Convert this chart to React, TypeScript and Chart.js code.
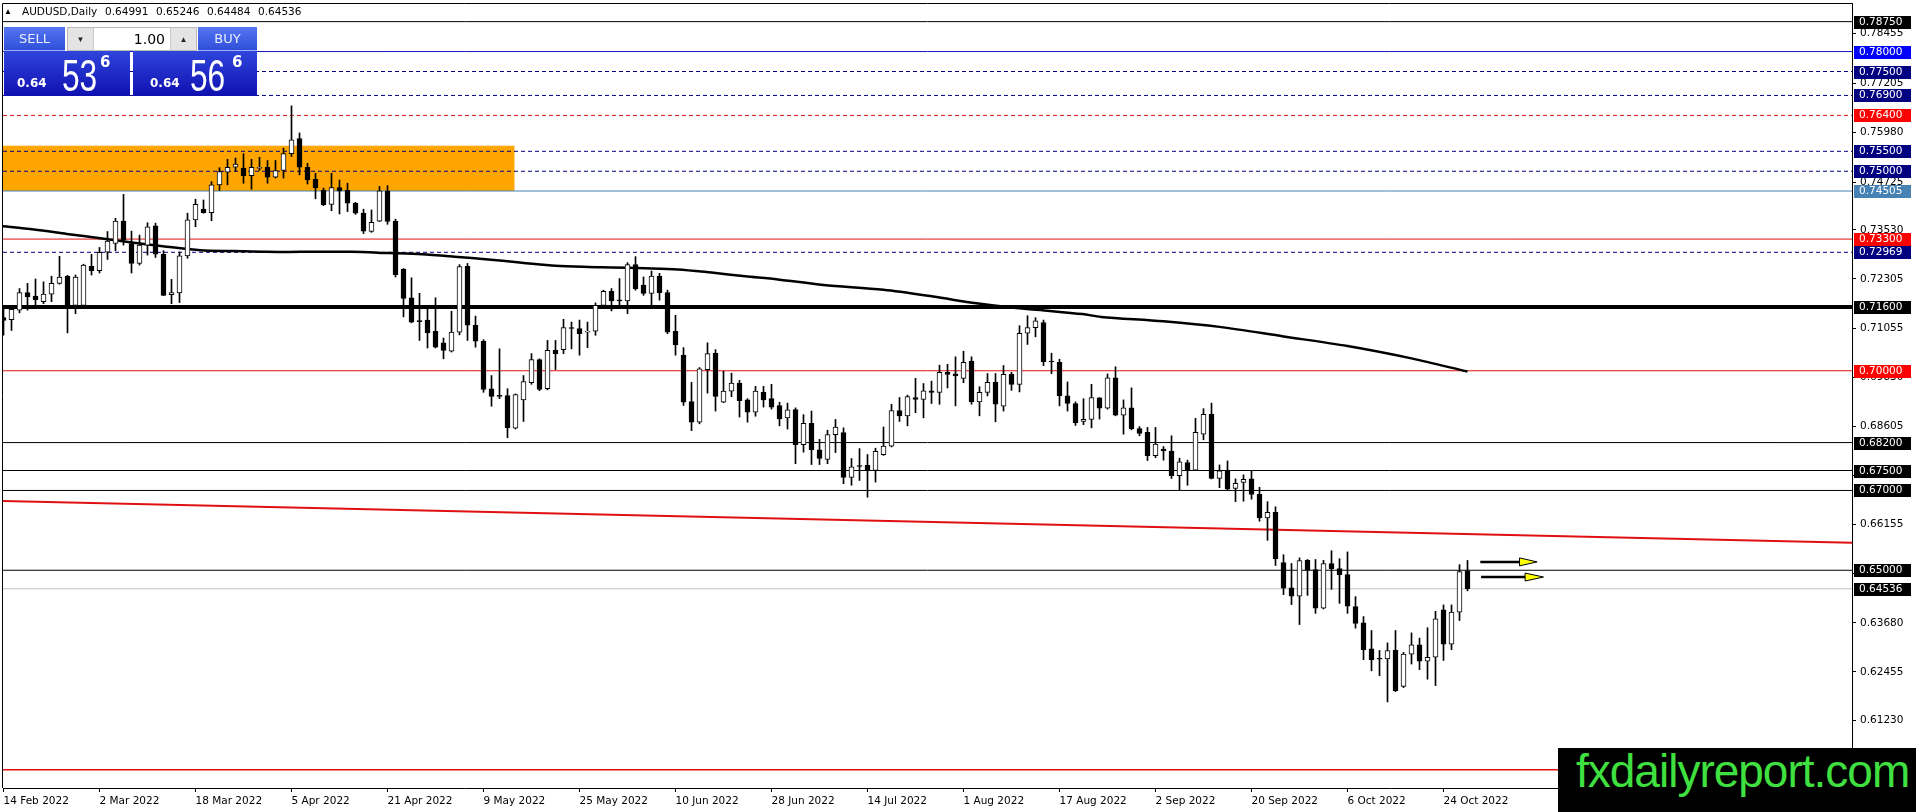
import { useEffect, useRef } from 'react';
import { Chart, registerables } from 'chart.js';

Chart.register(...registerables);

// one bar per trading day, bar 0 = 14 Feb 2022 ... bar 183 = 27 Oct 2022
const opens = [
  0.7133, 0.7128, 0.7152, 0.7196, 0.7187, 0.7173, 0.7192, 0.7219, 0.7237, 0.7164,
  0.7164, 0.7262, 0.7251, 0.7297, 0.7319, 0.7375, 0.7319, 0.7269, 0.7315, 0.7363,
  0.7292, 0.7191, 0.7195, 0.7288, 0.7378, 0.7405, 0.7396, 0.7466, 0.7498, 0.7510,
  0.7508, 0.7489, 0.7507, 0.7510, 0.7485, 0.7502, 0.7544, 0.7582, 0.7510, 0.7480,
  0.7452, 0.7417, 0.7459, 0.7452, 0.7420, 0.7395, 0.7349, 0.7375, 0.7451, 0.7375,
  0.7255, 0.7183, 0.7126, 0.7127, 0.7099, 0.7070, 0.7049, 0.7097, 0.7262, 0.7114,
  0.7074, 0.6955, 0.6937, 0.6938, 0.6856, 0.6927, 0.6970, 0.7028, 0.6955, 0.7051,
  0.7053, 0.7108, 0.7106, 0.7097, 0.7099, 0.7164, 0.7199, 0.7176, 0.7175, 0.7266,
  0.7215, 0.7194, 0.7237, 0.7196, 0.7099, 0.7039, 0.6923, 0.6871, 0.7003, 0.7044,
  0.6921, 0.6949, 0.6969, 0.6927, 0.6896, 0.6946, 0.6930, 0.6913, 0.6882, 0.6903,
  0.6815, 0.6868, 0.6802, 0.6778, 0.6840, 0.6845, 0.6733, 0.6761, 0.6763, 0.6750,
  0.6790, 0.6811, 0.6900, 0.6887, 0.6933, 0.6928, 0.6950, 0.6946, 0.6996, 0.6992,
  0.6981, 0.7024, 0.6922, 0.6946, 0.6971, 0.6911, 0.6991, 0.6966, 0.7094, 0.7108,
  0.7121, 0.7023, 0.7021, 0.6937, 0.6918, 0.6873, 0.6878, 0.6932, 0.6906, 0.6982,
  0.6889, 0.6907, 0.6855, 0.6846, 0.6787, 0.6804, 0.6799, 0.6737, 0.6770, 0.6751,
  0.6841, 0.6891, 0.6730, 0.6749, 0.6705, 0.6720, 0.6729, 0.6690, 0.6631, 0.6645,
  0.6519, 0.6456, 0.6435, 0.6525, 0.6502, 0.6405, 0.6517, 0.6504, 0.6489, 0.6409,
  0.6368, 0.6303, 0.6278, 0.6278, 0.6300, 0.6209, 0.6290, 0.6313, 0.6272, 0.6282,
  0.6401, 0.6315, 0.6395, 0.64991,
];
const highs = [
  0.7156, 0.7164, 0.7206, 0.7219, 0.7230, 0.7223, 0.7237, 0.7287, 0.7239, 0.7240,
  0.7267, 0.7292, 0.7309, 0.7349, 0.7382, 0.7442, 0.7350, 0.7340, 0.7371, 0.7370,
  0.7301, 0.7229, 0.7298, 0.7395, 0.7430, 0.7428, 0.7474, 0.7509, 0.7530, 0.7533,
  0.7544, 0.7530, 0.7535, 0.7527, 0.7527, 0.7558, 0.7664, 0.7596, 0.7520, 0.7495,
  0.7458, 0.7495, 0.7478, 0.7470, 0.7422, 0.7405, 0.7403, 0.7462, 0.7464, 0.7380,
  0.7256, 0.7233, 0.7194, 0.7156, 0.7183, 0.7082, 0.7149, 0.7266, 0.7269, 0.7137,
  0.7078, 0.6988, 0.7055, 0.6955, 0.6942, 0.6988, 0.7043, 0.7030, 0.7076, 0.7076,
  0.7129, 0.7122, 0.7127, 0.7122, 0.7170, 0.7202, 0.7206, 0.7231, 0.7271, 0.7286,
  0.7235, 0.7250, 0.7244, 0.7202, 0.7139, 0.7058, 0.6971, 0.7008, 0.7070, 0.7053,
  0.6999, 0.6994, 0.6976, 0.6930, 0.6961, 0.6961, 0.6966, 0.6921, 0.6919, 0.6907,
  0.6890, 0.6899, 0.6828, 0.6851, 0.6878, 0.6857, 0.6780, 0.6805, 0.6790, 0.6806,
  0.6859, 0.6916, 0.6933, 0.6939, 0.6981, 0.6968, 0.6974, 0.7014, 0.7016, 0.7035,
  0.7049, 0.7035, 0.6960, 0.6993, 0.6993, 0.7013, 0.6996, 0.7113, 0.7138, 0.7133,
  0.7127, 0.7044, 0.7029, 0.6972, 0.6922, 0.6930, 0.6966, 0.6933, 0.6992, 0.7010,
  0.6927, 0.6957, 0.6860, 0.6858, 0.6858, 0.6810, 0.6837, 0.6781, 0.6776, 0.6881,
  0.6905, 0.6919, 0.6764, 0.6774, 0.6729, 0.6739, 0.6749, 0.6708, 0.6672, 0.6659,
  0.6539, 0.6517, 0.6531, 0.6527, 0.6527, 0.6525, 0.6549, 0.6529, 0.6546, 0.6434,
  0.6384, 0.6349, 0.6299, 0.6318, 0.6349, 0.6294, 0.6343, 0.6330, 0.6356, 0.6397,
  0.6413, 0.6413, 0.6514, 0.65246,
];
const lows = [
  0.7089, 0.7101, 0.7145, 0.7152, 0.7164, 0.7168, 0.7173, 0.7217, 0.7095, 0.7143,
  0.7163, 0.7240, 0.7245, 0.7279, 0.7301, 0.7315, 0.7245, 0.7265, 0.7290, 0.7284,
  0.7188, 0.7168, 0.7171, 0.7282, 0.7361, 0.7395, 0.7376, 0.7452, 0.7466, 0.7499,
  0.7470, 0.7455, 0.7502, 0.7470, 0.7483, 0.7483, 0.7537, 0.7491, 0.7468, 0.7431,
  0.7414, 0.7401, 0.7393, 0.7399, 0.7392, 0.7344, 0.7347, 0.7374, 0.7367, 0.7235,
  0.7135, 0.7120, 0.7076, 0.7057, 0.7057, 0.7030, 0.7047, 0.7090, 0.7076, 0.7059,
  0.6946, 0.6911, 0.6930, 0.6832, 0.6854, 0.6873, 0.6966, 0.6950, 0.6952, 0.7003,
  0.7043, 0.7055, 0.7039, 0.7058, 0.7089, 0.7156, 0.7150, 0.7164, 0.7143, 0.7202,
  0.7189, 0.7164, 0.7177, 0.7093, 0.7039, 0.6913, 0.6850, 0.6867, 0.6944, 0.6899,
  0.6920, 0.6935, 0.6884, 0.6871, 0.6886, 0.6909, 0.6904, 0.6862, 0.6854, 0.6767,
  0.6796, 0.6765, 0.6765, 0.6767, 0.6795, 0.6717, 0.6713, 0.6725, 0.6683, 0.6721,
  0.6788, 0.6809, 0.6873, 0.6862, 0.6895, 0.6882, 0.6918, 0.6916, 0.6957, 0.6912,
  0.6970, 0.6916, 0.6887, 0.6937, 0.6872, 0.6899, 0.6951, 0.6947, 0.7066, 0.7085,
  0.7013, 0.6993, 0.6912, 0.6899, 0.6863, 0.6865, 0.6857, 0.6879, 0.6904, 0.6887,
  0.6841, 0.6852, 0.6837, 0.6775, 0.6782, 0.6776, 0.6730, 0.6701, 0.6713, 0.6750,
  0.6827, 0.6729, 0.6707, 0.6701, 0.6672, 0.6673, 0.6678, 0.6623, 0.6575, 0.6512,
  0.6439, 0.6414, 0.6364, 0.6437, 0.6392, 0.6403, 0.6452, 0.6417, 0.6392, 0.6355,
  0.6276, 0.6248, 0.6236, 0.6170, 0.6196, 0.6206, 0.6265, 0.6251, 0.6227, 0.6211,
  0.6274, 0.6301, 0.6374, 0.64484,
];
const closes = [
  0.7126, 0.7154, 0.7196, 0.7185, 0.7178, 0.7192, 0.7219, 0.7235, 0.7164, 0.7235,
  0.7265, 0.7251, 0.7297, 0.7325, 0.7375, 0.7328, 0.7269, 0.7315, 0.7361, 0.7292,
  0.7189, 0.7196, 0.7288, 0.7378, 0.7417, 0.7396, 0.7466, 0.7499, 0.7510, 0.7518,
  0.7489, 0.7510, 0.7510, 0.7485, 0.7502, 0.7544, 0.7579, 0.7510, 0.7478, 0.7459,
  0.7416, 0.7459, 0.7451, 0.7420, 0.7395, 0.7350, 0.7372, 0.7451, 0.7374, 0.7241,
  0.7181, 0.7122, 0.7123, 0.7095, 0.7059, 0.7051, 0.7097, 0.7261, 0.7114, 0.7074,
  0.6953, 0.6936, 0.6936, 0.6857, 0.6940, 0.6973, 0.7028, 0.6953, 0.7051, 0.7043,
  0.7108, 0.7106, 0.7093, 0.7099, 0.7164, 0.7199, 0.7175, 0.7175, 0.7266, 0.7206,
  0.7194, 0.7237, 0.7196, 0.7097, 0.7065, 0.6921, 0.6871, 0.7005, 0.7043, 0.6936,
  0.6949, 0.6969, 0.6925, 0.6896, 0.6949, 0.6927, 0.6909, 0.6879, 0.6902, 0.6815,
  0.6868, 0.6802, 0.6780, 0.6840, 0.6859, 0.6733, 0.6759, 0.6760, 0.6750, 0.6798,
  0.6811, 0.6900, 0.6887, 0.6935, 0.6928, 0.6950, 0.6946, 0.6996, 0.6991, 0.6987,
  0.7021, 0.6922, 0.6946, 0.6971, 0.6916, 0.6991, 0.6966, 0.7094, 0.7108, 0.7125,
  0.7023, 0.7022, 0.6937, 0.6918, 0.6870, 0.6878, 0.6933, 0.6906, 0.6982, 0.6889,
  0.6907, 0.6854, 0.6843, 0.6787, 0.6816, 0.6799, 0.6737, 0.6772, 0.6751, 0.6846,
  0.6891, 0.6730, 0.6749, 0.6703, 0.6718, 0.6728, 0.6690, 0.6631, 0.6645, 0.6529,
  0.6455, 0.6435, 0.6524, 0.6500, 0.6405, 0.6517, 0.6504, 0.6489, 0.6410, 0.6367,
  0.6301, 0.6275, 0.6277, 0.6299, 0.6198, 0.6290, 0.6313, 0.6272, 0.6282, 0.6378,
  0.6315, 0.6395, 0.6497, 0.64536,
];

const dateLabels = [
  '14 Feb 2022', '2 Mar 2022', '18 Mar 2022', '5 Apr 2022', '21 Apr 2022', '9 May 2022',
  '25 May 2022', '10 Jun 2022', '28 Jun 2022', '14 Jul 2022', '1 Aug 2022', '17 Aug 2022',
  '2 Sep 2022', '20 Sep 2022', '6 Oct 2022', '24 Oct 2022',
];
const dateBars = [0, 12, 24, 36, 48, 60, 72, 84, 96, 108, 120, 132, 144, 156, 168, 180];

const priceTicks = [
  0.78455, 0.77205, 0.7598, 0.74725, 0.7353, 0.72305, 0.71055, 0.6983,
  0.68605, 0.6738, 0.66155, 0.6493, 0.6368, 0.62455, 0.6123,
];

// moving average at these bar positions
const maBars = [
  -0.4, 3.8, 7.9, 12.1, 16.3, 20.4, 24.6, 28.8, 32.9, 37.1, 43.5, 48.1, 52.3,
  56.4, 60.6, 64.8, 69.0, 73.1, 76.0, 80.2, 84.3, 88.5, 92.7, 96.8, 102.5, 110.0,
  116.2, 121.6, 126.6, 130.8, 134.9, 137.2, 145, 152, 160, 168, 176, 183,
];
const maValues = [
  0.7363, 0.7354, 0.7343, 0.7332, 0.7321, 0.7311, 0.7302, 0.73, 0.7298, 0.7298,
  0.7298, 0.7295, 0.7292, 0.7286, 0.7279, 0.7271, 0.7263, 0.726, 0.7259, 0.7257,
  0.7254, 0.7246, 0.7237, 0.7229, 0.7215, 0.7203, 0.7186, 0.7169, 0.7157, 0.715,
  0.7142, 0.7135, 0.7124, 0.711, 0.7086, 0.7062, 0.7031, 0.6998,
];

const trendBars = [-0.4, 231.1];
const trendValues = [0.6674, 0.6569];

const zoneBars = [-1, 63.9];
const zoneTop = 0.7564;
const zoneBottom = 0.74505;

const levels = [
  0.7875, 0.78, 0.775, 0.769, 0.764, 0.755, 0.75, 0.74505, 0.733,
  0.72969, 0.716, 0.7, 0.682, 0.675, 0.67, 0.65, 0.64536, 0.6,
];

const arrowStart = [184.6, 184.7];
const arrowBase = [189.5, 190.2];
const arrowTip = [191.7, 192.5];
const arrowPrice = [0.6521, 0.6483];

const titleParts = ['AUDUSD,Daily', '0.64991', '0.65246', '0.64484', '0.64536'];

// styles for the horizontal levels, same order as levels
const NAVY = '#000080';
const RED = '#e01010';
const levelStyle = [
  { color: '#000000', width: 1, dash: [], tag: '#000000' },
  { color: '#1414c8', width: 1, dash: [], tag: '#0000ff' },
  { color: NAVY, width: 1, dash: [4, 3], tag: NAVY },
  { color: NAVY, width: 1, dash: [4, 3], tag: NAVY },
  { color: RED, width: 1, dash: [4, 3], tag: '#ff0000' },
  { color: NAVY, width: 1, dash: [4, 3], tag: NAVY },
  { color: NAVY, width: 1, dash: [4, 3], tag: NAVY },
  { color: '#4682b4', width: 1, dash: [], tag: '#4682b4' },
  { color: RED, width: 1, dash: [], tag: '#ff0000' },
  { color: NAVY, width: 1, dash: [4, 3], tag: NAVY },
  { color: '#000000', width: 4, dash: [], tag: '#000000' },
  { color: RED, width: 1, dash: [], tag: '#ff0000' },
  { color: '#000000', width: 1, dash: [], tag: '#000000' },
  { color: '#000000', width: 1, dash: [], tag: '#000000' },
  { color: '#000000', width: 1, dash: [], tag: '#000000' },
  { color: '#000000', width: 1, dash: [], tag: '#000000' },
  { color: '#c0c0c0', width: 1, dash: [], tag: '#000000' },
  { color: RED, width: 1.5, dash: [], tag: '#ff0000' },
];

const X_MIN = -0.0625;
const X_MAX = 231.0625;
const Y_MIN = 0.59543;
const Y_MAX = 0.79217;
const FONT = 'DejaVu Sans';

const frame = {
  id: 'frame',
  beforeDatasetsDraw(chart: any) {
    const { ctx, chartArea: a } = chart;
    ctx.save();
    ctx.strokeStyle = '#000';
    ctx.lineWidth = 1;
    ctx.beginPath();
    ctx.moveTo(a.left - 0.5, a.bottom);
    ctx.lineTo(a.left - 0.5, a.top + 0.5);
    ctx.lineTo(a.right, a.top + 0.5);
    ctx.stroke();
    ctx.restore();
  },
};

const priceTags = {
  id: 'priceTags',
  afterDraw(chart: any) {
    const { ctx } = chart;
    const y = chart.scales.y;
    ctx.save();
    ctx.font = `10.5px "${FONT}"`;
    ctx.textBaseline = 'middle';
    levels.forEach((p, k) => {
      const py = Math.round(y.getPixelForValue(p));
      if (py < y.top || py > y.bottom) return;
      ctx.fillStyle = levelStyle[k].tag;
      ctx.fillRect(y.left + 2, py - 6, 57, 13);
      ctx.fillStyle = '#ffffff';
      ctx.fillText(p.toFixed(5), y.left + 7, py + 0.5);
    });
    ctx.restore();
  },
};

function hLine(p: number, k: number) {
  const s = levelStyle[k];
  return {
    type: 'line',
    data: [{ x: X_MIN, y: p }, { x: X_MAX, y: p }],
    borderColor: s.color,
    borderWidth: s.width,
    borderDash: s.dash,
    pointRadius: 0,
    fill: false,
    order: 15,
  };
}

export default function App() {
  const canvasRef = useRef<HTMLCanvasElement>(null);

  useEffect(() => {
    if (!canvasRef.current) return;

    const idx = opens.map((_, i) => i);
    const bodyColors = idx.map((i) => (closes[i] > opens[i] ? '#ffffff' : '#000000'));

    const arrowSets: any[] = [];
    arrowPrice.forEach((p, k) => {
      arrowSets.push({
        type: 'line',
        data: [{ x: arrowStart[k], y: p }, { x: arrowBase[k], y: p }],
        borderColor: '#000',
        borderWidth: 2.5,
        pointRadius: 0,
        fill: false,
        order: 0,
      });
      arrowSets.push({
        type: 'line',
        data: [
          { x: arrowBase[k], y: p + 0.001 },
          { x: arrowTip[k], y: p },
          { x: arrowBase[k], y: p - 0.001 },
          { x: arrowBase[k], y: p + 0.001 },
        ],
        borderColor: '#000',
        borderWidth: 1,
        backgroundColor: '#ffff00',
        pointRadius: 0,
        fill: 'shape',
        order: 0,
      });
    });

    const chart = new Chart(canvasRef.current, {
      type: 'bar',
      data: {
        datasets: [
          {
            type: 'line',
            data: zoneBars.map((x) => ({ x, y: zoneTop })),
            borderWidth: 0,
            backgroundColor: '#ffa500',
            pointRadius: 0,
            fill: { value: zoneBottom },
            order: 20,
          },
          ...levels.map((p, k) => hLine(p, k)),
          {
            type: 'line',
            data: trendBars.map((x, k) => ({ x, y: trendValues[k] })),
            borderColor: RED,
            borderWidth: 2,
            pointRadius: 0,
            fill: false,
            order: 14,
          },
          {
            type: 'line',
            data: maBars.map((x, k) => ({ x, y: maValues[k] })),
            borderColor: '#000',
            borderWidth: 2.5,
            pointRadius: 0,
            fill: false,
            tension: 0.3,
            order: 13,
          },
          {
            type: 'bar',
            data: idx.map((i) => ({ x: i, y: [lows[i], highs[i]] })),
            backgroundColor: '#000',
            borderWidth: 0,
            barThickness: 1,
            grouped: false,
            order: 3,
          },
          {
            type: 'bar',
            data: idx.map((i) => ({ x: i, y: [opens[i], closes[i]] })),
            backgroundColor: bodyColors,
            borderColor: '#000',
            borderWidth: 1,
            borderSkipped: false,
            barThickness: 5,
            minBarLength: 1,
            grouped: false,
            order: 2,
          },
          ...arrowSets,
        ] as any,
      },
      options: {
        responsive: false,
        animation: false,
        devicePixelRatio: 1,
        events: [],
        layout: { padding: { left: 3, top: 3, right: 0, bottom: 0 } },
        plugins: {
          legend: { display: false },
          tooltip: { enabled: false },
        },
        scales: {
          x: {
            type: 'linear',
            min: X_MIN,
            max: X_MAX,
            offset: false,
            grid: { display: true, offset: false, drawOnChartArea: false, drawTicks: true, tickLength: 4, color: '#000' },
            border: { display: true, color: '#000' },
            afterBuildTicks: (s: any) => {
              s.ticks = dateBars.map((v) => ({ value: v }));
            },
            afterFit: (s: any) => {
              s.height = 24;
              s.paddingLeft = 0;
              s.paddingRight = 0;
            },
            ticks: {
              autoSkip: false,
              maxRotation: 0,
              align: 'start',
              padding: 3,
              color: '#000',
              font: { family: FONT, size: 10.5 },
              callback: (v: any) => dateLabels[dateBars.indexOf(Number(v))] ?? '',
            },
          },
          y: {
            type: 'linear',
            position: 'right',
            min: Y_MIN,
            max: Y_MAX,
            grid: { display: true, drawOnChartArea: false, drawTicks: true, tickLength: 4, color: '#000' },
            border: { display: true, color: '#000' },
            afterBuildTicks: (s: any) => {
              s.ticks = priceTicks.map((v) => ({ value: v }));
            },
            afterFit: (s: any) => {
              s.width = 64;
              s.paddingTop = 0;
              s.paddingBottom = 0;
            },
            ticks: {
              autoSkip: false,
              padding: 4,
              color: '#000',
              font: { family: FONT, size: 10.5 },
              callback: (v: any) => Number(v).toFixed(5),
            },
          },
        },
      } as any,
      plugins: [frame, priceTags],
    });

    return () => chart.destroy();
  }, []);

  const btn: any = {
    position: 'absolute',
    top: 27,
    height: 24,
    background: 'linear-gradient(#5575f3, #2f4fd9)',
    color: '#e8ecff',
    fontFamily: FONT,
    fontSize: 13,
    display: 'flex',
    alignItems: 'center',
    justifyContent: 'center',
    boxSizing: 'border-box',
    borderBottom: '1px solid #9fb0ff',
  };
  const priceBox: any = {
    position: 'absolute',
    top: 51,
    height: 45,
    background: 'linear-gradient(#2f45dc, #1010b0)',
    color: '#ffffff',
  };
  const small: any = { position: 'absolute', top: 26, fontFamily: FONT, fontWeight: 'bold', fontSize: 12, lineHeight: '12px' };
  const big: any = {
    position: 'absolute',
    top: 3,
    fontFamily: 'Liberation Sans',
    fontSize: 44,
    lineHeight: '44px',
    transform: 'scaleX(0.72)',
    transformOrigin: 'left top',
  };
  const sup: any = { position: 'absolute', top: 4, fontFamily: FONT, fontWeight: 'bold', fontSize: 15, lineHeight: '15px' };
  const arrowBtn: any = {
    position: 'absolute',
    top: 0,
    height: 22,
    width: 25,
    background: '#e4e4e4',
    fontSize: 8,
    color: '#222',
    display: 'flex',
    alignItems: 'center',
    justifyContent: 'center',
  };
  const titleLeft = [22, 105, 156, 207, 258];

  return (
    <div style={{ position: 'fixed', left: 0, top: 0, width: 1916, height: 812, background: '#fff', overflow: 'hidden' }}>
      <canvas ref={canvasRef} width={1916} height={812} style={{ position: 'absolute', left: 0, top: 0 }} />

      <div style={{ position: 'absolute', left: 4, top: 7, fontSize: 8, lineHeight: '10px' }}>▲</div>
      {titleParts.map((t, k) => (
        <div
          key={k}
          style={{ position: 'absolute', left: titleLeft[k], top: 5, fontFamily: FONT, fontSize: 10.5, lineHeight: '13px', whiteSpace: 'pre', color: '#000' }}
        >
          {t}
        </div>
      ))}

      <div style={{ ...btn, left: 4, width: 61 }}>SELL</div>
      <div style={{ position: 'absolute', left: 67, top: 27, width: 130, height: 24, background: '#fff', border: '1px solid #b8b8b8', boxSizing: 'border-box' }}>
        <div style={{ ...arrowBtn, left: 0, borderRight: '1px solid #c8c8c8' }}>▼</div>
        <div style={{ position: 'absolute', right: 31, top: 0, height: 22, lineHeight: '22px', fontFamily: FONT, fontSize: 14, color: '#000' }}>1.00</div>
        <div style={{ ...arrowBtn, right: 0, borderLeft: '1px solid #c8c8c8' }}>▲</div>
      </div>
      <div style={{ ...btn, left: 198, width: 59 }}>BUY</div>

      <div style={{ ...priceBox, left: 4, width: 126 }}>
        <span style={{ ...small, left: 13 }}>0.64</span>
        <span style={{ ...big, left: 58 }}>53</span>
        <span style={{ ...sup, left: 96 }}>6</span>
      </div>
      <div style={{ ...priceBox, left: 133, width: 124 }}>
        <span style={{ ...small, left: 17 }}>0.64</span>
        <span style={{ ...big, left: 57 }}>56</span>
        <span style={{ ...sup, left: 99 }}>6</span>
      </div>

      <div style={{ position: 'absolute', left: 1558, top: 748, width: 358, height: 64, background: '#000', overflow: 'hidden' }}>
        <span style={{ position: 'absolute', left: 18, top: 0, fontFamily: 'Liberation Sans', fontSize: 46, lineHeight: '46px', letterSpacing: -1, color: '#3fe03f', whiteSpace: 'nowrap' }}>
          fxdailyreport.com
        </span>
      </div>
    </div>
  );
}
